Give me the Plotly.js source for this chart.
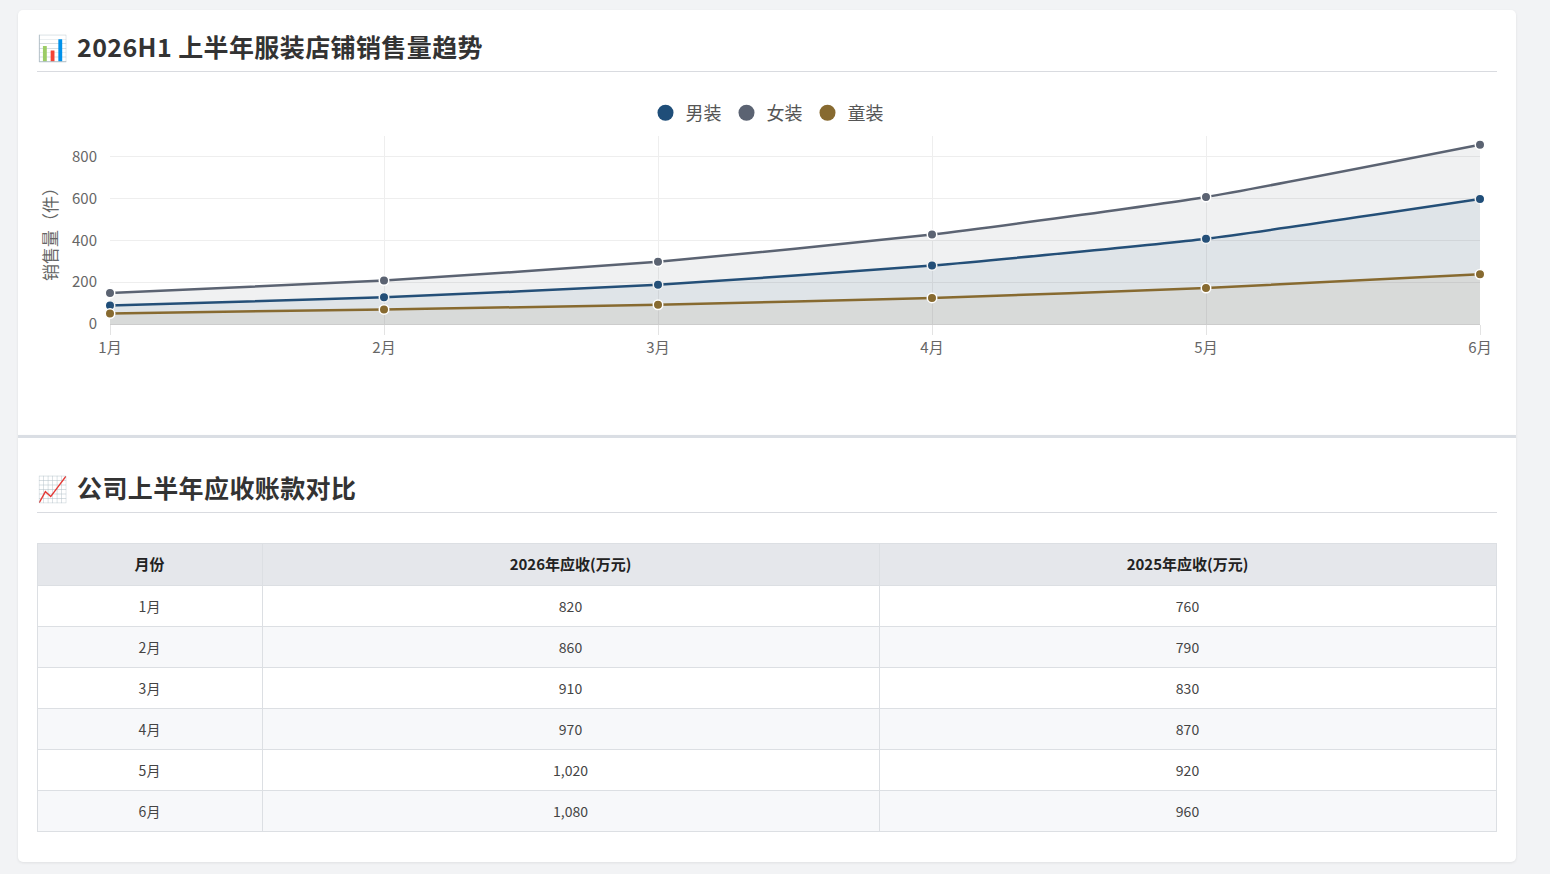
<!DOCTYPE html>
<html>
<head>
<meta charset="utf-8">
<script src="https://cdn.plot.ly/plotly-3.0.1.min.js"></script>
<style>
  body { margin: 0; background: #f2f3f5; font-family: "Noto Sans CJK SC", "Noto Sans", sans-serif; }
  .wrap { position: absolute; left: 18px; top: 10px; width: 1498px; }
  .card { background: #fff; box-sizing: border-box; padding: 0 19px 0 19px; box-shadow: 0 1px 3px rgba(0,0,0,0.08); }
  .card1 { height: 425px; padding-top: 20px; border-radius: 5px 5px 0 0; }
  .card2 { height: 427px; padding-top: 33px; border-top: 3px solid #dadee4; border-radius: 0 0 5px 5px; }
  h2 { margin: 0; font-size: 25px; letter-spacing: 0.4px; line-height: 32px; font-weight: 700; color: #333; padding-bottom: 9px; border-bottom: 1px solid #d9dbe0; }
  h2 .ico { display: inline-block; margin-right: 9px; letter-spacing: 0; }
  #chart { margin-top: 15px; height: 330px; }
  #table { margin-top: 30px; height: 292px; }
  #table text.cell-text { transform: translateY(8px); }
</style>
</head>
<body>
<div class="wrap">
  <div class="card card1">
    <h2><span class="ico">📊</span>2026H1 上半年服装店铺销售量趋势</h2>
    <div id="chart"></div>
  </div>
  <div class="card card2">
    <h2><span class="ico">📈</span>公司上半年应收账款对比</h2>
    <div id="table"></div>
  </div>
</div>
<script>
const months = ['1月', '2月', '3月', '4月', '5月', '6月'];
const menSales = [88, 128, 188, 280, 408, 598];
const womenSales = [148, 208, 298, 428, 608, 858];
const kidsSales = [50, 70, 92, 125, 172, 238];

const names = ['男装', '女装', '童装'];
const colors = ['#1f4e79', '#5b6372', '#876a30'];
const fills = ['rgba(31,78,121,0.08)', 'rgba(91,99,114,0.09)', 'rgba(135,106,48,0.08)'];

const receivable2026 = [820, 860, 910, 970, 1020, 1080];
const receivable2025 = [760, 790, 830, 870, 920, 960];
const tableHeader = ['月份', '2026年应收(万元)', '2025年应收(万元)'];

const font = '"Noto Sans CJK SC", "Noto Sans", sans-serif';

let traces = [];
[menSales, womenSales, kidsSales].forEach((ys, i) => {
  traces.push({
    x: months, y: ys, name: names[i], type: 'scatter', mode: 'lines+markers',
    line: { color: colors[i], width: 2.5, shape: 'spline', smoothing: 0.5 },
    marker: { color: colors[i], size: 9.5, line: { color: '#fff', width: 1.5 } },
    fill: 'tozeroy', fillcolor: fills[i], cliponaxis: false,
    showlegend: false, legendgroup: names[i]
  });
});
// legend entries: circles only
names.forEach((n, i) => {
  traces.push({
    x: [null], y: [null], name: n, type: 'scatter', mode: 'markers',
    marker: { color: colors[i], size: 22 }, legendgroup: n
  });
});

const layout = {
  margin: { l: 73, r: 17, t: 49, b: 93 },
  paper_bgcolor: '#fff', plot_bgcolor: '#fff',
  font: { family: font, color: '#666', size: 14 },
  showlegend: true,
  legend: {
    orientation: 'h', xref: 'container', yref: 'container',
    x: 0.5, xanchor: 'center', y: 0.921, yanchor: 'middle',
    font: { size: 18, color: '#555' }, itemsizing: 'trace', itemwidth: 30
  },
  xaxis: {
    type: 'category', range: [0, 5], showgrid: true, gridcolor: '#eeeeee',
    ticks: 'outside', ticklen: 10, tickcolor: '#e3e3e3',
    showline: true, linecolor: '#cccccc', tickfont: { size: 15, color: '#666' }
  },
  yaxis: {
    range: [0, 900], tickvals: [0, 200, 400, 600, 800], gridcolor: '#eeeeee',
    zeroline: false, tickfont: { size: 15, color: '#666' }, ticklabelstandoff: 12,
    title: { text: '销售量（件）', font: { size: 17, color: '#666' }, standoff: 10 }
  }
};

Plotly.newPlot('chart', traces, layout, { displayModeBar: false, responsive: false });

const rowFill = months.map((m, i) => i % 2 ? '#f7f8fa' : '#ffffff');
const tableTrace = {
  type: 'table',
  columnwidth: [225, 617, 617],
  header: {
    values: tableHeader, align: 'center', height: 42,
    fill: { color: '#e5e7eb' }, line: { color: '#dcdfe3', width: 1 },
    font: { family: font, size: 15, color: '#222', weight: 'bold' }
  },
  cells: {
    values: [months, receivable2026, receivable2025], align: 'center', height: 41,
    format: ['', ',d', ',d'],
    fill: { color: [rowFill, rowFill, rowFill] }, line: { color: '#dcdfe3', width: 1 },
    font: { family: font, size: 14, color: '#444' }
  }
};

Plotly.newPlot('table', [tableTrace], {
  margin: { l: 0, r: 1, t: 0, b: 0 }, paper_bgcolor: '#fff'
}, { displayModeBar: false });
</script>
</body>
</html>
